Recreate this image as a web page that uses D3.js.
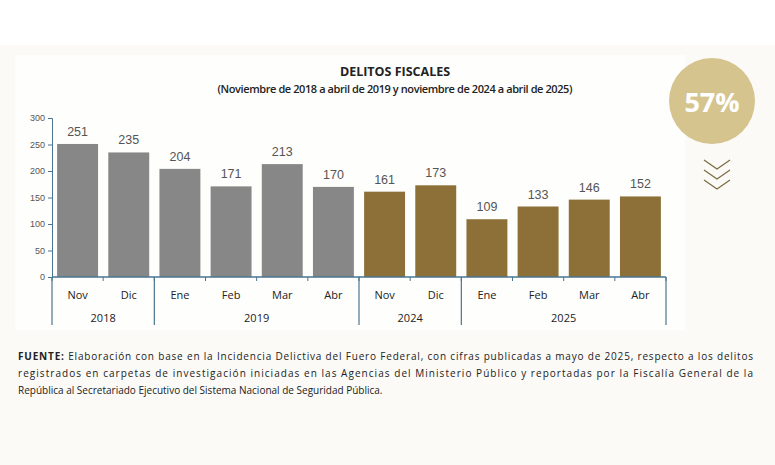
<!DOCTYPE html><html><head><meta charset="utf-8"><script src="https://cdn.jsdelivr.net/npm/d3@7"></script>
<style>body{margin:0;background:#fbfaf7;font-family:"Open Sans",sans-serif}</style></head><body>
<svg id="c" width="775" height="465"></svg>
<script>
const months=["Nov","Dic","Ene","Feb","Mar","Abr","Nov","Dic","Ene","Feb","Mar","Abr"];
const values=[251,235,204,171,213,170,161,173,109,133,146,152];
const years=["2018","2019","2024","2025"];
const yearSpans=[[0,2],[2,6],[6,8],[8,12]];
const yTicks=[0,50,100,150,200,250,300];
const svg=d3.select("#c");
svg.append("rect").attr("x",0).attr("y",0).attr("width",775).attr("height",45).attr("fill","#ffffff");
svg.append("rect").attr("x",15).attr("y",55).attr("width",670).attr("height",275).attr("fill","#fefefd");
const x=d3.scaleBand().domain(d3.range(12)).range([52,666]).paddingInner(0.2).paddingOuter(0.1);
const y=d3.scaleLinear().domain([0,300]).range([277,118]);
const ax="#4a7590";
svg.append("text").attr("x",395).attr("y",76).attr("text-anchor","middle").attr("font-weight","bold").attr("font-size",12.5).attr("fill","#222").text("DELITOS FISCALES");
svg.append("text").attr("x",395).attr("y",93).attr("text-anchor","middle").attr("font-weight","600").attr("font-size",11).attr("fill","#222").attr("textLength",355).text("(Noviembre de 2018 a abril de 2019 y noviembre de 2024 a abril de 2025)");
const ya=svg.append("g").attr("transform","translate(52,0)").call(d3.axisLeft(y).tickValues(yTicks).tickSize(4));
ya.select(".domain").attr("stroke",ax);ya.selectAll(".tick line").attr("stroke",ax);
ya.selectAll("text").attr("font-size",9).attr("fill","#555").attr("font-family","Arial");
svg.selectAll(".bar").data(values).join("rect").attr("x",(d,i)=>x(i)).attr("y",d=>y(d)).attr("width",x.bandwidth()).attr("height",d=>y(0)-y(d)).attr("fill",(d,i)=>i<6?"#878787":"#8d6f38");
svg.selectAll(".lab").data(values).join("text").attr("x",(d,i)=>x(i)+x.bandwidth()/2).attr("y",d=>y(d)-8).attr("text-anchor","middle").attr("font-family","Arial").attr("font-size",12.5).attr("fill","#555").text(d=>d);
svg.append("line").attr("x1",52).attr("x2",666).attr("y1",277).attr("y2",277).attr("stroke",ax).attr("stroke-width",1.5);
const step=x.step();
d3.range(13).forEach(i=>{const xx=52+i*step;svg.append("line").attr("x1",xx).attr("x2",xx).attr("y1",277).attr("y2",281).attr("stroke",ax);});
svg.selectAll(".m").data(months).join("text").attr("x",(d,i)=>x(i)+x.bandwidth()/2).attr("y",299).attr("text-anchor","middle").attr("font-size",11).attr("font-weight","500").attr("fill","#222").text(d=>d);
yearSpans.forEach((s,k)=>{
  const a=52+s[0]*step,b=52+s[1]*step;
  svg.append("text").attr("x",(a+b)/2).attr("y",322).attr("text-anchor","middle").attr("font-size",11).attr("font-weight","500").attr("fill","#222").text(years[k]);
});
[0,2,6,8,12].forEach(i=>{const xx=52+i*step;svg.append("line").attr("x1",xx).attr("x2",xx).attr("y1",277).attr("y2",325).attr("stroke",ax).attr("stroke-width",1.2);});
svg.append("circle").attr("cx",712).attr("cy",101).attr("r",43).attr("fill","#d6c48f");
svg.append("text").attr("x",712).attr("y",112).attr("text-anchor","middle").attr("font-weight","bold").attr("font-size",27).attr("fill","#fff").text("57%");
[160,170,180].forEach(t=>svg.append("path").attr("d",`M704,${t} L717,${t+9} L730,${t}`).attr("fill","none").attr("stroke","#7a6a40").attr("stroke-width",1.2));
const foot=["<tspan font-weight='bold'>FUENTE:</tspan> Elaboración con base en la Incidencia Delictiva del Fuero Federal, con cifras publicadas a mayo de 2025, respecto a los delitos",
"registrados en carpetas de investigación iniciadas en las Agencias del Ministerio Público y reportadas por la Fiscalía General de la",
"República al Secretariado Ejecutivo del Sistema Nacional de Seguridad Pública."];
foot.forEach((f,i)=>{const t=svg.append("text").attr("x",18).attr("y",360+i*17).attr("font-size",10).attr("fill","#222").html(f);if(i<2)t.attr("textLength",735).attr("lengthAdjust","spacing");});
</script></body></html>
